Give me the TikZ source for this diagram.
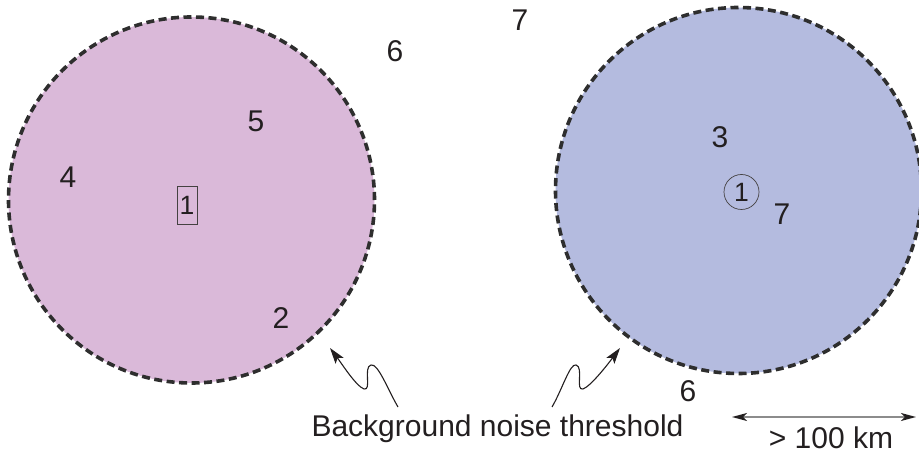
\documentclass[tikz,border=0pt]{standalone}
\usepackage{fontspec}
\setmainfont{Liberation Sans}
\usetikzlibrary{arrows.meta}
\definecolor{zonepink}{HTML}{DAB9D9}
\definecolor{zoneblue}{HTML}{B4BBDF}
\definecolor{rim}{HTML}{2E2E2E}
\definecolor{ink}{HTML}{231F20}
\definecolor{scalegray}{HTML}{8C8C8C}
\tikzset{
  zone/.style={circle, draw=rim, line width=3.6pt, dash pattern=on 8pt off 4.5pt,
    inner sep=0pt, minimum size=366pt},
  num/.style={anchor=base, text=ink, inner sep=0pt, font=\fontsize{30}{36}\selectfont},
  small/.style={text=ink, inner sep=0pt, font=\fontsize{26.5}{32}\selectfont},
  squig/.style={draw=ink, line width=1.1pt, -{Stealth[length=16pt,width=10pt,inset=3.5pt]}},
  scalebar/.style={draw=scalegray, line width=1.6pt,
    {Stealth[length=15pt,width=8pt,inset=4pt,color=ink]}-{Stealth[length=15pt,width=8pt,inset=4pt,color=ink]}}
}
\begin{document}
\begin{tikzpicture}[x=1pt,y=-1pt]
\useasboundingbox (0,0) rectangle (919,454);
\clip (0,0) rectangle (919,454);

% the two felt areas
\node[zone, fill=zonepink] (west) at (191.5,200) {};
\node[zone, fill=zoneblue] (east) at (738.5,190.5) {};

% epicentres
\node[small, draw=ink!85, line width=0.8pt, minimum width=20pt, minimum height=38pt] (b1) at (187,205.5) {1};
\node[small, circle, draw=ink!85, line width=0.7pt, minimum size=35pt] (c1) at (741.5,192) {1};

% intensity values
\node[num] (w5) at (256,132) {5};
\node[num] (w4) at (68,188) {4};
\node[num] (w2) at (281,329) {2};
\node[num] (o6) at (395,62) {6};
\node[num] (o7) at (520,31) {7};
\node[num] (e3) at (720,148) {3};
\node[num] (e7) at (782,225) {7};
\node[num] (s6) at (688,402) {6};

% threshold label with pointers
\node[num] (lbl) at (497.5,436) {Background noise threshold};
\coordinate (lfoot) at (398,407);
\coordinate (ltip) at (330,348);
\coordinate (rfoot) at (552,407);
\coordinate (rtip) at (620,348);
\draw[squig] (lfoot) .. controls (388,390) and (378,363) .. (371,365)
  .. controls (363,367) and (372,391) .. (364,389)
  .. controls (356,386) and (342,364) .. (ltip);
\draw[squig] (rfoot) .. controls (562,390) and (570,363) .. (576,365)
  .. controls (584,367) and (575,391) .. (583,389)
  .. controls (591,386) and (608,364) .. (rtip);

% distance scale
\coordinate (sa) at (732,417);
\coordinate (sb) at (916,417);
\draw[scalebar] (sa) -- (sb);
\node[num] (dist) at (831,448) {> 100 km};
\end{tikzpicture}
\end{document}
